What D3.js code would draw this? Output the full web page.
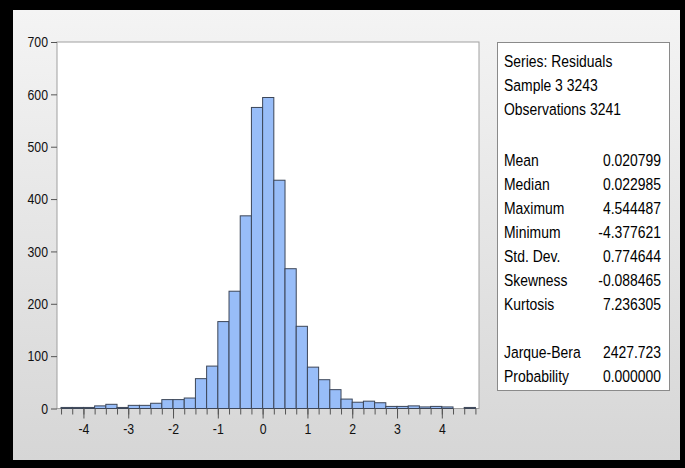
<!DOCTYPE html>
<html>
<head>
<meta charset="utf-8">
<script src="https://cdn.jsdelivr.net/npm/d3@7"></script>
<style>
  body { margin: 0; background: #000; }
  svg { display: block; }
  .tick text { font-family: 'Liberation Sans', Arial, sans-serif; font-size: 15px; fill: #111; }
  .stats text { font-family: 'Liberation Sans', Arial, sans-serif; font-size: 17px; fill: #000; }
</style>
</head>
<body>
<svg width="685" height="468"></svg>
<script>
var width = 685;
var height = 468;
var narrow = 0.82; // horizontal squeeze to imitate Arial Narrow

// histogram bins (left edges, width 0.25) and counts
var binWidth = 0.25;
var binLefts = [-4.5, -4.25, -4, -3.75, -3.5, -3.25, -3, -2.75, -2.5, -2.25, -2, -1.75,
  -1.5, -1.25, -1, -0.75, -0.5, -0.25, 0, 0.25, 0.5, 0.75, 1, 1.25, 1.5, 1.75,
  2, 2.25, 2.5, 2.75, 3, 3.25, 3.5, 3.75, 4, 4.25, 4.5];
var counts = [2, 2, 2, 5, 8, 2, 6, 6, 10, 17, 17, 20,
  57, 81, 166, 224, 368, 575, 594, 436, 267, 157, 79, 55, 36, 18,
  12, 14, 11, 4, 4, 5, 3, 4, 3, 0, 2];

var xTicks = [-4, -3, -2, -1, 0, 1, 2, 3, 4];
var yTicks = [0, 100, 200, 300, 400, 500, 600, 700];

var headerLines = ['Series: Residuals', 'Sample 3 3243', 'Observations 3241'];
var statNames = ['Mean', 'Median', 'Maximum', 'Minimum', 'Std. Dev.', 'Skewness', 'Kurtosis'];
var statValues = ['0.020799', '0.022985', '4.544487', '-4.377621', '0.774644', '-0.088465', '7.236305'];
var testNames = ['Jarque-Bera', 'Probability'];
var testValues = ['2427.723', '0.000000'];

var bins = binLefts.map((b, i) => ({ x0: b, x1: b + binWidth, n: counts[i] }));

var plot = { left: 57, top: 42, right: 479, bottom: 408.5 };

var xScale = d3.scaleLinear()
  .domain([-4.59, 4.83])
  .range([plot.left, plot.right]);

var yScale = d3.scaleLinear()
  .domain([0, 700])
  .range([plot.bottom, plot.top]);

var svg = d3.select('svg');

var grad = svg.append('defs')
  .append('linearGradient')
  .attr('id', 'bg')
  .attr('x1', 0).attr('y1', 0)
  .attr('x2', 0).attr('y2', 1);
grad.append('stop').attr('offset', '0%').attr('stop-color', '#f4f4f4');
grad.append('stop').attr('offset', '100%').attr('stop-color', '#d6d6d6');

svg.append('rect')
  .attr('width', width)
  .attr('height', height)
  .attr('fill', '#000');

svg.append('rect')
  .attr('x', 13)
  .attr('y', 10)
  .attr('width', 667)
  .attr('height', 450)
  .attr('fill', 'url(#bg)');

// plot frame
svg.append('rect')
  .attr('x', plot.left)
  .attr('y', plot.top)
  .attr('width', plot.right - plot.left)
  .attr('height', plot.bottom - plot.top)
  .attr('fill', '#fff')
  .attr('stroke', '#a0a0a0');

svg.append('g')
  .selectAll('rect')
  .data(bins)
  .enter()
  .append('rect')
  .attr('x', d => xScale(d.x0))
  .attr('y', d => yScale(d.n))
  .attr('width', d => xScale(d.x1) - xScale(d.x0))
  .attr('height', d => yScale(0) - yScale(d.n))
  .attr('fill', '#98bdf8')
  .attr('stroke', '#3c4658')
  .attr('stroke-width', 1);

// minor ticks at bin edges
var edges = binLefts.concat([binLefts[binLefts.length - 1] + binWidth]);
var minorAxis = d3.axisBottom(xScale)
  .tickValues(edges)
  .tickSize(6)
  .tickSizeOuter(0)
  .tickFormat('');

svg.append('g')
  .attr('transform', 'translate(0,' + plot.bottom + ')')
  .call(minorAxis)
  .call(g => g.select('.domain').remove())
  .call(g => g.selectAll('line').attr('stroke', '#555'));

var xAxis = d3.axisBottom(xScale)
  .tickValues(xTicks)
  .tickSize(10)
  .tickPadding(5)
  .tickSizeOuter(0)
  .tickFormat(d => String(d));

svg.append('g')
  .attr('transform', 'translate(0,' + plot.bottom + ')')
  .call(xAxis)
  .call(g => g.select('.domain').remove())
  .call(g => g.selectAll('line').attr('stroke', '#555'))
  .call(g => g.selectAll('text').attr('transform', 'scale(' + narrow + ',1)'));

var yAxis = d3.axisLeft(yScale)
  .tickValues(yTicks)
  .tickSize(6)
  .tickPadding(3)
  .tickSizeOuter(0);

svg.append('g')
  .attr('transform', 'translate(' + plot.left + ',0)')
  .call(yAxis)
  .call(g => g.select('.domain').remove())
  .call(g => g.selectAll('line').attr('stroke', '#555'))
  .call(g => g.selectAll('text')
    .attr('x', -9 / narrow)
    .attr('transform', 'scale(' + narrow + ',1)'));

// statistics panel
var panel = svg.append('g').attr('class', 'stats');

panel.append('rect')
  .attr('x', 497.5)
  .attr('y', 42.5)
  .attr('width', 172)
  .attr('height', 348)
  .attr('fill', '#fff')
  .attr('stroke', '#8a8a8a');

var textX = 504;
var valueX = 661;

function addLines(lines, x, y0, anchor) {
  panel.append('g')
    .selectAll('text')
    .data(lines)
    .enter()
    .append('text')
    .attr('transform', (d, i) => 'translate(' + x + ',' + (y0 + i * 24) + ') scale(' + narrow + ',1)')
    .style('text-anchor', anchor)
    .text(d => d);
}

addLines(headerLines, textX, 67, 'start');
addLines(statNames, textX, 166, 'start');
addLines(statValues, valueX, 166, 'end');
addLines(testNames, textX, 358, 'start');
addLines(testValues, valueX, 358, 'end');
</script>
</body>
</html>
